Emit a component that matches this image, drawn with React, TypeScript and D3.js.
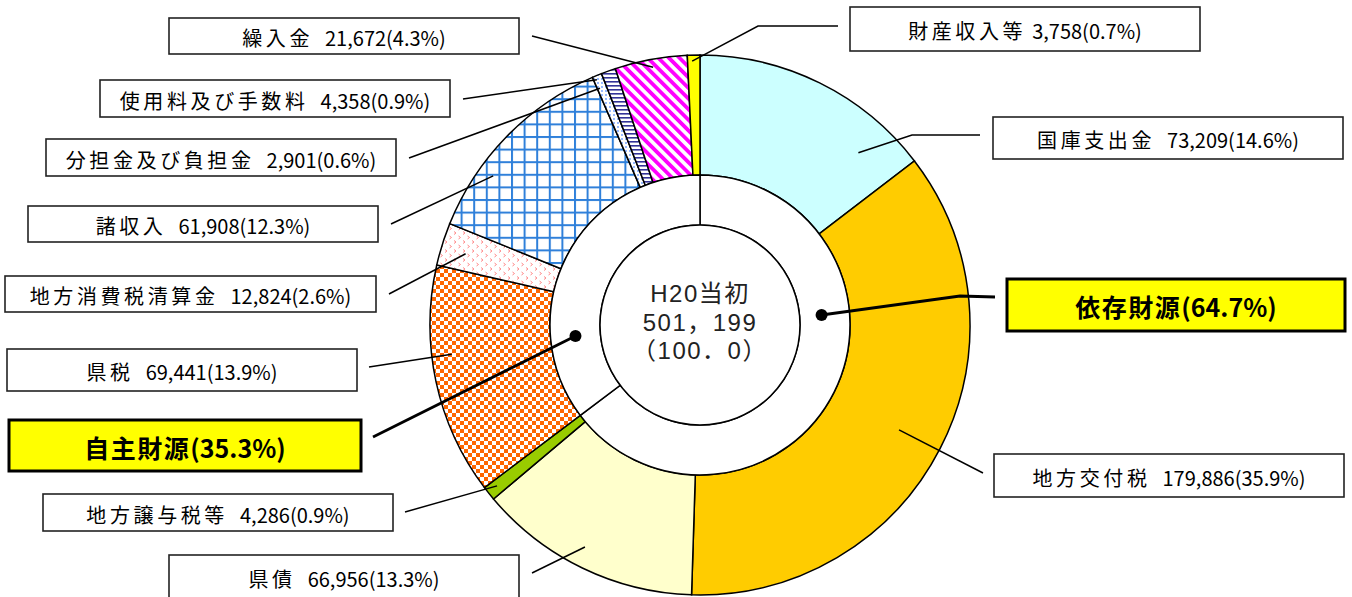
import * as d3 from 'd3';

// 歳入内訳 (H20当初, 百万円)
const categories = [
  '国庫支出金', '地方交付税', '県債', '地方譲与税等', '県税', '地方消費税清算金',
  '諸収入', '分担金及び負担金', '使用料及び手数料', '繰入金', '財産収入等',
];
const amounts = [73209, 179886, 66956, 4286, 69441, 12824, 61908, 2901, 4358, 21672, 3758];
const shares = ['14.6', '35.9', '13.3', '0.9', '13.9', '2.6', '12.3', '0.6', '0.9', '4.3', '0.7'];
const nameGaps = [2, 2, 2, 2, 2, 2, 2, 2, 2, 2, 1];

const groups = ['依存財源', '自主財源'];
const groupShares = ['64.7', '35.3'];
const groupOf = [0, 0, 0, 0, 1, 1, 1, 1, 1, 1, 1];

const centerLines = ['H20当初', '501，199', '（100．0）'];

const fills = [
  '#CCFFFF', '#FFCC00', '#FFFFCC', '#99CC00', 'url(#pCheck)', 'url(#pChevron)',
  'url(#pGrid)', 'url(#pDots)', 'url(#pHLines)', 'url(#pStripes)', '#FFFF00',
];

// label boxes + leader lines (annotation layout)
const labelLayout = [
  { x: 993, y: 117, w: 350, h: 42, pts: [[980, 135], [912, 135]], a: 42.6, r: 234 },
  { x: 994, y: 454, w: 350, h: 43, pts: [[983, 473]], a: 117.8, r: 225 },
  { x: 169, y: 555, w: 350, h: 44, pts: [[532, 573]], a: 207.4, r: 250 },
  { x: 43, y: 494, w: 350, h: 37, pts: [[405, 512]], a: 231.6, r: 259 },
  { x: 7, y: 349, w: 350, h: 42, pts: [[369, 367]], a: 263.3, r: 250 },
  { x: 5, y: 276, w: 371, h: 36, pts: [[389, 294]], a: 286.9, r: 245 },
  { x: 28, y: 206, w: 350, h: 36, pts: [[391, 224]], a: 305.8, r: 255 },
  { x: 46, y: 139, w: 350, h: 37, pts: [[409, 158]], a: 337.1, r: 257 },
  { x: 100, y: 80, w: 350, h: 37, pts: [[463, 99]], a: 337.2, r: 266 },
  { x: 169, y: 18, w: 350, h: 36, pts: [[532, 36]], a: 349.7, r: 262 },
  { x: 850, y: 7, w: 350, h: 44, pts: [[838, 26], [758, 26]], a: 358.3, r: 264 },
];
const groupLayout = [
  { x: 1007, y: 279, w: 338, h: 52, pts: [[995, 297], [960, 296]], a: 85.3, r: 122 },
  { x: 9, y: 420, w: 352, h: 51, pts: [[373, 437]], a: 265, r: 125 },
];

const W = 1352;
const H = 597;
const cx = 700;
const cy = 325;
const rOuter = 270;
const rMid = 150;
const rInner = 100;

const polar = (deg: number, r: number) => {
  const t = (deg * Math.PI) / 180;
  return [cx + r * Math.sin(t), cy - r * Math.cos(t)];
};

const labelFont = '"Noto Sans CJK JP", "Noto Sans", sans-serif';
const centerFont = '"Liberation Sans", "Noto Sans CJK JP", sans-serif';

export default function App() {
  const pie = d3.pie<number>().sort(null).value((d) => d);
  const outerArcs = pie(amounts);
  const groupValues = groups.map((_, g) => d3.sum(amounts.filter((_, i) => groupOf[i] === g)));
  const innerArcs = pie(groupValues);

  const arcOuter = d3.arc<d3.PieArcDatum<number>>().innerRadius(rMid).outerRadius(rOuter);
  const arcInner = d3.arc<d3.PieArcDatum<number>>().innerRadius(rInner).outerRadius(rMid);
  const fmt = d3.format(',');

  return (
    <svg width={W} height={H} style={{ display: 'block', position: 'absolute', left: 0, top: 0 }}>
      <defs>
        <pattern id="pCheck" width={8} height={8} patternUnits="userSpaceOnUse">
          <rect width={8} height={8} fill="#fff" />
          <rect width={4} height={4} fill="#FF6600" />
          <rect x={4} y={4} width={4} height={4} fill="#FF6600" />
        </pattern>
        <pattern id="pGrid" width={12.6} height={12.6} patternUnits="userSpaceOnUse">
          <rect width={12.6} height={12.6} fill="#fff" />
          <rect width={2} height={12.6} fill="#2F80DA" />
          <rect width={12.6} height={2} fill="#2F80DA" />
        </pattern>
        <pattern id="pStripes" width={7.5} height={7.5} patternUnits="userSpaceOnUse" patternTransform="rotate(-45)">
          <rect width={7.5} height={7.5} fill="#fff" />
          <rect width={3.8} height={7.5} fill="#FF00FF" />
        </pattern>
        <pattern id="pHLines" width={4} height={4} patternUnits="userSpaceOnUse">
          <rect width={4} height={4} fill="#fff" />
          <rect width={4} height={1.6} fill="#333399" />
        </pattern>
        <pattern id="pDots" width={4} height={4} patternUnits="userSpaceOnUse">
          <rect width={4} height={4} fill="#fff" />
          <circle cx={2} cy={2} r={0.9} fill="#6699FF" />
        </pattern>
        <pattern id="pChevron" width={9} height={9} patternUnits="userSpaceOnUse">
          <rect width={9} height={9} fill="#fff" />
          <path d="M1.5 1 L3.5 2.5 L1.5 4" fill="none" stroke="#FF8A8A" strokeWidth={1} />
          <path d="M6 5.5 L8 7 L6 8.5" fill="none" stroke="#FF8A8A" strokeWidth={1} />
        </pattern>
      </defs>
      <rect width={W} height={H} fill="#fff" />

      <g transform={`translate(${cx},${cy})`}>
        {outerArcs.map((d, i) => (
          <path key={categories[i]} d={arcOuter(d) ?? ''} fill={fills[i]} stroke="#000" strokeWidth={1.5} />
        ))}
        {innerArcs.map((d, i) => (
          <path key={groups[i]} d={arcInner(d) ?? ''} fill="#fff" stroke="#000" strokeWidth={1.5} />
        ))}
        <circle r={rInner} fill="#fff" stroke="#000" strokeWidth={1.5} />
        {centerLines.map((t, i) => (
          <text
            key={t}
            x={0}
            y={(i - 1) * 28.5 - 3}
            textAnchor="middle"
            dominantBaseline="central"
            fontFamily={centerFont}
            fontSize={24}
            letterSpacing={1.5}
            fill="#222"
          >
            {t}
          </text>
        ))}
      </g>

      {labelLayout.map((b, i) => {
        const end = polar(b.a, b.r);
        const pts = [...b.pts, end];
        return (
          <g key={categories[i]}>
            <polyline points={pts.map((p) => p.join(',')).join(' ')} fill="none" stroke="#000" strokeWidth={1.5} />
            <rect x={b.x} y={b.y} width={b.w} height={b.h} fill="#fff" stroke="#222" strokeWidth={1.6} />
            <text
              x={b.x + b.w / 2}
              y={b.y + b.h / 2 + 1}
              textAnchor="middle"
              dominantBaseline="central"
              fontFamily={labelFont}
              fontSize={20}
              fill="#000"
            >
              <tspan letterSpacing={3.6}>{categories[i]}</tspan>
              <tspan dx={nameGaps[i] * 6}>{`${fmt(amounts[i])}(${shares[i]}%)`}</tspan>
            </text>
          </g>
        );
      })}

      {groupLayout.map((b, i) => {
        const end = polar(b.a, b.r);
        const pts = [...b.pts, end];
        return (
          <g key={groups[i]}>
            <polyline points={pts.map((p) => p.join(',')).join(' ')} fill="none" stroke="#000" strokeWidth={2.8} />
            <circle cx={end[0]} cy={end[1]} r={6} fill="#000" />
            <rect x={b.x} y={b.y} width={b.w} height={b.h} fill="#FFFF00" stroke="#000" strokeWidth={3} />
            <text
              x={b.x + b.w / 2}
              y={b.y + b.h / 2 + 1}
              textAnchor="middle"
              dominantBaseline="central"
              fontFamily={labelFont}
              fontSize={25}
              fontWeight="bold"
              fill="#000"
            >
              <tspan letterSpacing={1.5}>{groups[i]}</tspan>
              <tspan>{`(${groupShares[i]}%)`}</tspan>
            </text>
          </g>
        );
      })}
    </svg>
  );
}
